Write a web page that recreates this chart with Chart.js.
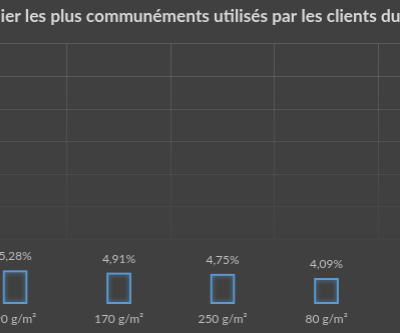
<!DOCTYPE html>
<html>
<head>
<meta charset="utf-8">
<script src="https://cdn.jsdelivr.net/npm/chart.js@4/dist/chart.umd.min.js"></script>
<style>
  html, body { margin: 0; padding: 0; background: #404040; overflow: hidden; }
  #wrap { position: absolute; left: -60px; top: 0; width: 496.75px; height: 333px; }
</style>
</head>
<body>
<div id="wrap"><canvas id="grammageChart"></canvas></div>
<script>
// grammages et part d'utilisation (%)
const grammages = ['90 g/m²', '170 g/m²', '250 g/m²', '80 g/m²'];
const parts = [5.28, 4.91, 4.75, 4.09];
const yMin = 0;
const yMax = 40;
const yStep = 5;
const titre = 'ier les plus communéments utilisés par les clients du';

const police = 'Lato, "Open Sans", sans-serif';
const bleu = '#5b9bd5';

// alpha des lignes de grille : s'estompe vers le bas
function alphaGrille(v) {
    if (v <= 5) return 0;
    return 0.14 * (v - 5) / (yMax - 5);
}

function grilleVerticale(ctx) {
    const chart = ctx.chart;
    const area = chart.chartArea;
    if (!area || !chart.scales.y) return 'rgba(255,255,255,0.1)';
    const bas = chart.scales.y.getPixelForValue(5);
    const g = chart.ctx.createLinearGradient(0, area.top, 0, bas);
    g.addColorStop(0, 'rgba(255,255,255,0.15)');
    g.addColorStop(1, 'rgba(255,255,255,0)');
    return g;
}

// halo bleu autour des barres
const lueur = {
    id: 'lueur',
    beforeDatasetDraw(chart) {
        const c = chart.ctx;
        c.save();
        c.shadowColor = 'rgba(91,155,213,0.85)';
        c.shadowBlur = 5;
    },
    afterDatasetDraw(chart) {
        chart.ctx.restore();
    }
};

// valeurs au-dessus des barres
const etiquettes = {
    id: 'etiquettes',
    afterDatasetsDraw(chart) {
        const c = chart.ctx;
        const meta = chart.getDatasetMeta(0);
        c.save();
        c.font = '12px ' + police;
        c.fillStyle = '#bfbfbf';
        c.textAlign = 'center';
        c.textBaseline = 'alphabetic';
        meta.data.forEach(function (bar, i) {
            const v = chart.data.datasets[0].data[i];
            c.fillText(v.toFixed(2).replace('.', ',') + '%', bar.x, bar.y - 10);
        });
        c.restore();
    }
};

new Chart(document.getElementById('grammageChart'), {
    type: 'bar',
    data: {
        labels: grammages,
        datasets: [{
            data: parts,
            backgroundColor: 'rgba(0,0,0,0)',
            borderColor: bleu,
            borderWidth: 2,
            borderSkipped: false,
            categoryPercentage: 1,
            barPercentage: 0.24
        }]
    },
    options: {
        responsive: true,
        maintainAspectRatio: false,
        animation: false,
        layout: {
            padding: { left: 23.25, right: 0, top: 0, bottom: 0 }
        },
        plugins: {
            legend: { display: false },
            tooltip: { enabled: false },
            title: {
                display: true,
                text: titre,
                color: '#d9d9d9',
                font: { family: police, size: 17.3, weight: 'bold' },
                padding: { top: 6.3, bottom: 16.9 }
            }
        },
        scales: {
            x: {
                grid: {
                    offset: true,
                    color: grilleVerticale,
                    drawTicks: false
                },
                border: { display: false },
                ticks: {
                    color: '#bfbfbf',
                    font: { family: police, size: 12 },
                    padding: 7
                }
            },
            y: {
                position: 'right',
                min: yMin,
                max: yMax,
                ticks: { display: false, stepSize: yStep },
                grid: {
                    color: function (ctx) {
                        return 'rgba(255,255,255,' + alphaGrille(ctx.tick ? ctx.tick.value : 0) + ')';
                    },
                    tickLength: 100
                },
                border: { display: false },
                afterFit: function (scale) {
                    scale.width = 59.5;
                }
            }
        }
    },
    plugins: [lueur, etiquettes]
});
</script>
</body>
</html>
